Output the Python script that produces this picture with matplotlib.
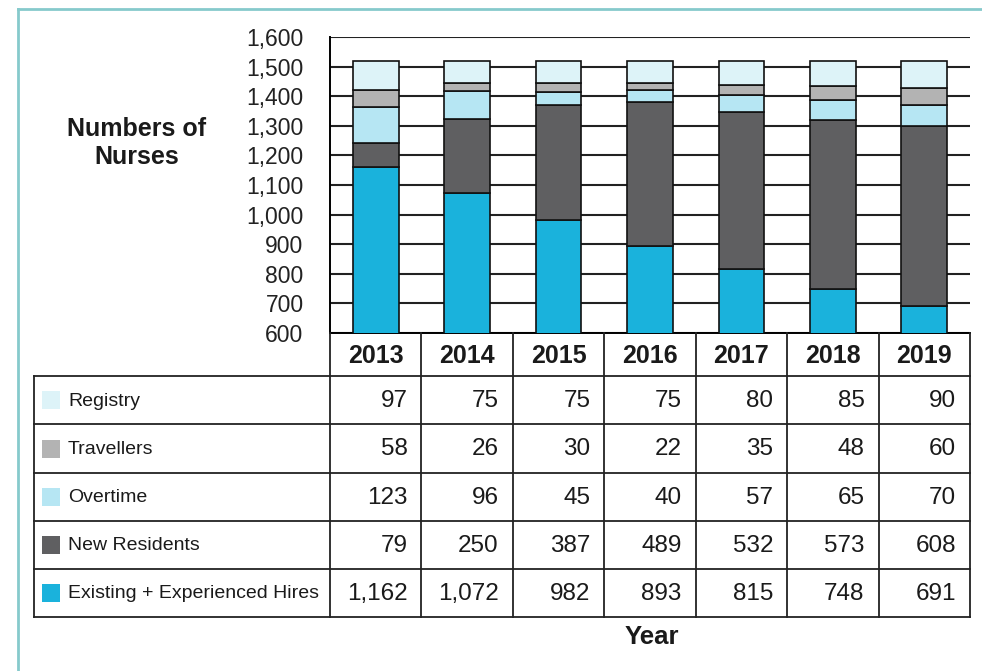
import matplotlib.pyplot as plt
from matplotlib.patches import Rectangle
from matplotlib.ticker import FuncFormatter

plt.rcParams["font.family"] = ["Liberation Sans", "DejaVu Sans"]

# data, stacked from the bottom up
years = ["2013", "2014", "2015", "2016", "2017", "2018", "2019"]
existing = [1162, 1072, 982, 893, 815, 748, 691]
new_residents = [79, 250, 387, 489, 532, 573, 608]
overtime = [123, 96, 45, 40, 57, 65, 70]
travellers = [58, 26, 30, 22, 35, 48, 60]
registry = [97, 75, 75, 75, 80, 85, 90]

series_names = ["Existing + Experienced Hires", "New Residents", "Overtime",
                "Travellers", "Registry"]
series_values = [existing, new_residents, overtime, travellers, registry]
colors = ["#1ab2dc", "#5f5f61", "#b6e6f3", "#b3b3b3", "#ddf3f8"]

W, H = 982, 671
fig = plt.figure(figsize=(W / 100, H / 100), dpi=100)

def fx(px):
    return px / W

def fy(py):
    return 1 - py / H

# teal frame around the page
fig.add_artist(plt.Line2D([fx(18), fx(18)], [fy(9), 0], color="#86cacc", lw=2))
fig.add_artist(plt.Line2D([fx(18), 1], [fy(9), fy(9)], color="#86cacc", lw=2))

# chart
left, right, top, bottom = 330, 970, 37, 333
ax = fig.add_axes([fx(left), fy(bottom), fx(right - left), (bottom - top) / H])
x = list(range(len(years)))
base = [0] * len(years)
for name, vals, c in zip(series_names, series_values, colors):
    ax.bar(x, vals, width=0.5, bottom=base, color=c, edgecolor="#111111",
           linewidth=1.2, zorder=3, label=name)
    base = [b + v for b, v in zip(base, vals)]

ax.set_xlim(-0.5, len(years) - 0.5)
ax.set_ylim(600, 1600)
ax.set_yticks(range(600, 1700, 100))
ax.yaxis.set_major_formatter(FuncFormatter(lambda v, p: f"{int(v):,}"))
ax.tick_params(axis="y", length=0, pad=19, labelsize=16.5, labelcolor="#222222")
ax.set_xticks([])
ax.grid(axis="y", color="#222222", lw=1.5, zorder=0)
for s in ["top", "right"]:
    ax.spines[s].set_visible(False)
ax.spines["left"].set_linewidth(1.4)
ax.spines["bottom"].set_linewidth(1.4)

fig.text(fx(137), fy(143), "Numbers of\nNurses", ha="center", va="center",
         fontsize=18, fontweight="bold", color="#1a1a1a", linespacing=1.22)

# data table under the chart
t_left, t_bottom = 34, 617
col_px = (right - left) / len(years)
lab_w = (left - t_left) / col_px
head_h = 0.9
tab = fig.add_axes([fx(t_left), fy(t_bottom), fx(right - t_left),
                    (t_bottom - bottom) / H])
tab.set_xlim(-0.5 - lab_w, len(years) - 0.5)
n_rows = len(series_names)
tab.set_ylim(head_h + n_rows, 0)
tab.axis("off")

lc = "#222222"
lw = 1.3
# header row with years
for i, yr in enumerate(years):
    tab.text(i, head_h / 2 + 0.02, yr, ha="center", va="center", fontsize=18,
             fontweight="bold", color="#1a1a1a")
for i in range(len(years) + 1):
    tab.plot([i - 0.5, i - 0.5], [0, head_h + n_rows], color=lc, lw=lw, clip_on=False)
tab.plot([-0.5 - lab_w, -0.5 - lab_w], [head_h, head_h + n_rows], color=lc, lw=lw,
         clip_on=False)
for r in range(n_rows + 1):
    tab.plot([-0.5 - lab_w, len(years) - 0.5], [head_h + r, head_h + r], color=lc,
             lw=lw, clip_on=False)

rows = list(zip(series_names, series_values, colors))[::-1]
sw_w = 18 / col_px
sw_h = 18 / ((t_bottom - bottom) / (head_h + n_rows))
for r, (name, vals, c) in enumerate(rows):
    yc = head_h + r + 0.5
    tab.add_patch(Rectangle((-0.5 - lab_w + 8 / col_px, yc - sw_h / 2), sw_w, sw_h,
                            facecolor=c, edgecolor="none"))
    tab.text(-0.5 - lab_w + 34 / col_px, yc + 0.02, name, ha="left", va="center",
             fontsize=14, color="#1a1a1a")
    for i, v in enumerate(vals):
        tab.text(i + 0.5 - 14 / col_px, yc + 0.02, f"{v:,}", ha="right", va="center",
                 fontsize=17.5, color="#1a1a1a")

fig.text(fx(652), fy(637), "Year", ha="center", va="center", fontsize=18.5,
         fontweight="bold", color="#1a1a1a")

fig.savefig("out.png", dpi=100)
